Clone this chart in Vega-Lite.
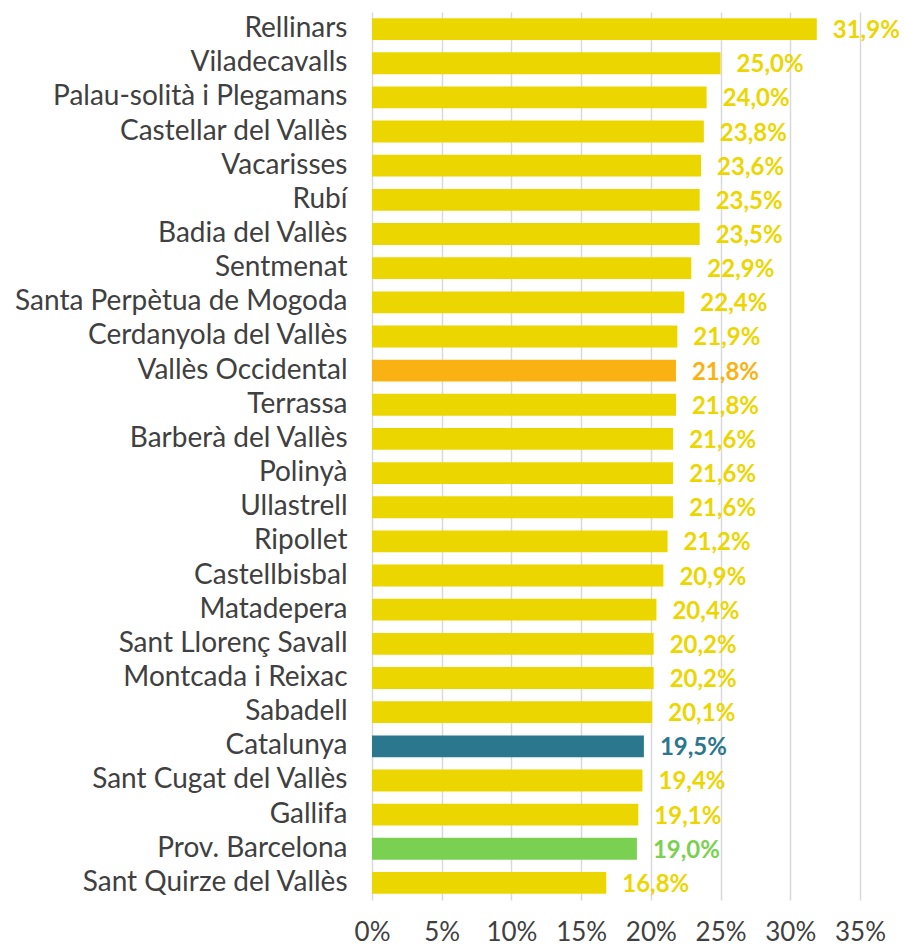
{
  "$schema": "https://vega.github.io/schema/vega-lite/v6.json",
  "width": 488,
  "height": 888,
  "autosize": {"type": "none"},
  "padding": {"left": 372, "top": 12, "right": 44, "bottom": 45},
  "background": "white",
  "config": {"view": {"stroke": null}, "font": "Lato"},
  "data": {"values": [
    {"nom": "Rellinars", "v": 31.9, "tipus": "municipi", "ord": 1},
    {"nom": "Viladecavalls", "v": 25.0, "tipus": "municipi", "ord": 2},
    {"nom": "Palau-solità i Plegamans", "v": 24.0, "tipus": "municipi", "ord": 3},
    {"nom": "Castellar del Vallès", "v": 23.8, "tipus": "municipi", "ord": 4},
    {"nom": "Vacarisses", "v": 23.6, "tipus": "municipi", "ord": 5},
    {"nom": "Rubí", "v": 23.5, "tipus": "municipi", "ord": 6},
    {"nom": "Badia del Vallès", "v": 23.5, "tipus": "municipi", "ord": 7},
    {"nom": "Sentmenat", "v": 22.9, "tipus": "municipi", "ord": 8},
    {"nom": "Santa Perpètua de Mogoda", "v": 22.4, "tipus": "municipi", "ord": 9},
    {"nom": "Cerdanyola del Vallès", "v": 21.9, "tipus": "municipi", "ord": 10},
    {"nom": "Vallès Occidental", "v": 21.8, "tipus": "comarca", "ord": 11},
    {"nom": "Terrassa", "v": 21.8, "tipus": "municipi", "ord": 12},
    {"nom": "Barberà del Vallès", "v": 21.6, "tipus": "municipi", "ord": 13},
    {"nom": "Polinyà", "v": 21.6, "tipus": "municipi", "ord": 14},
    {"nom": "Ullastrell", "v": 21.6, "tipus": "municipi", "ord": 15},
    {"nom": "Ripollet", "v": 21.2, "tipus": "municipi", "ord": 16},
    {"nom": "Castellbisbal", "v": 20.9, "tipus": "municipi", "ord": 17},
    {"nom": "Matadepera", "v": 20.4, "tipus": "municipi", "ord": 18},
    {"nom": "Sant Llorenç Savall", "v": 20.2, "tipus": "municipi", "ord": 19},
    {"nom": "Montcada i Reixac", "v": 20.2, "tipus": "municipi", "ord": 20},
    {"nom": "Sabadell", "v": 20.1, "tipus": "municipi", "ord": 21},
    {"nom": "Catalunya", "v": 19.5, "tipus": "catalunya", "ord": 22},
    {"nom": "Sant Cugat del Vallès", "v": 19.4, "tipus": "municipi", "ord": 23},
    {"nom": "Gallifa", "v": 19.1, "tipus": "municipi", "ord": 24},
    {"nom": "Prov. Barcelona", "v": 19.0, "tipus": "provincia", "ord": 25},
    {"nom": "Sant Quirze del Vallès", "v": 16.8, "tipus": "municipi", "ord": 26}
  ]},
  "transform": [
    {"calculate": "replace(format(datum.v, '.1f'), '.', ',') + '%'", "as": "etiqueta"}
  ],
  "encoding": {
    "y": {
      "field": "nom", "type": "nominal",
      "sort": {"field": "ord", "order": "ascending"},
      "scale": {"paddingInner": 0.36, "paddingOuter": 0.18},
      "axis": {
        "title": null, "domain": false, "ticks": false,
        "labelFontSize": 28, "labelColor": "#404040", "labelPadding": 25,
        "labelFont": "Lato", "labelLimit": 400, "labelOverlap": false
      }
    },
    "color": {
      "field": "tipus", "type": "nominal", "legend": null,
      "scale": {
        "domain": ["municipi", "comarca", "catalunya", "provincia"],
        "range": ["#EBD600", "#F9B211", "#2B778D", "#7AD151"]
      }
    }
  },
  "layer": [
    {
      "mark": {"type": "bar"},
      "encoding": {
        "x": {
          "field": "v", "type": "quantitative",
          "scale": {"domain": [0, 35], "nice": false},
          "axis": {
            "title": null, "domain": false, "ticks": false,
            "values": [0, 5, 10, 15, 20, 25, 30, 35],
            "labelExpr": "datum.value + '%'",
            "labelFontSize": 26, "labelColor": "#404040", "labelPadding": 19,
            "labelFont": "Lato", "labelOverlap": false, "labelBound": false,
            "labelFlush": false,
            "grid": true, "gridColor": "#D9D9D9", "gridWidth": 1.5
          }
        }
      }
    },
    {
      "mark": {"type": "text", "align": "left", "baseline": "middle", "dx": 16, "dy": 2, "fontSize": 24, "fontWeight": "bold", "font": "Lato"},
      "encoding": {
        "x": {"field": "v", "type": "quantitative"},
        "text": {"field": "etiqueta", "type": "nominal"}
      }
    }
  ]
}
